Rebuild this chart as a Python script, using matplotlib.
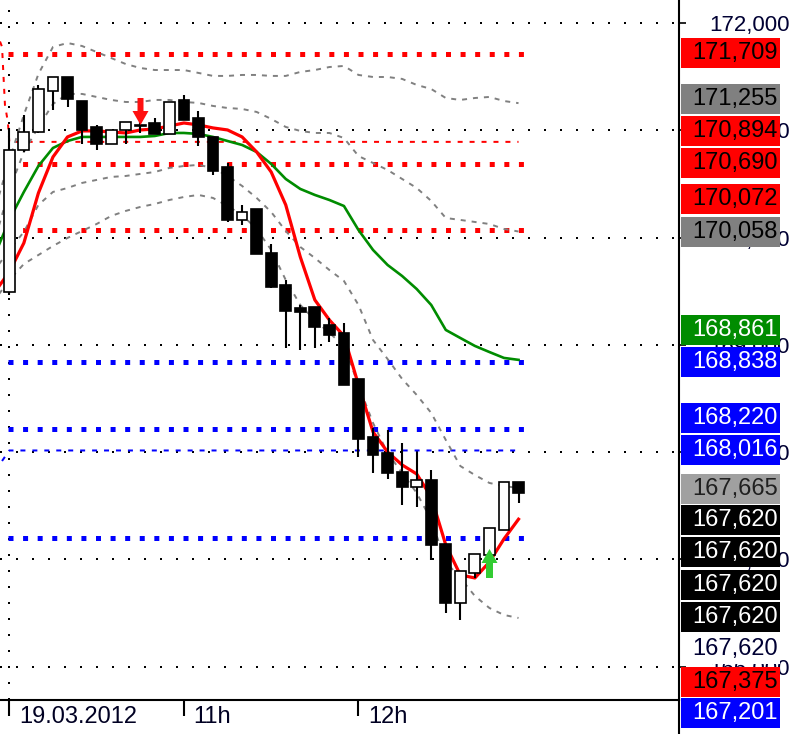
import matplotlib
matplotlib.use('Agg')
import matplotlib.pyplot as plt
import numpy as np
from matplotlib.patches import Rectangle
from matplotlib.path import Path
from matplotlib.lines import Line2D
from matplotlib.transforms import blended_transform_factory, ScaledTranslation, IdentityTransform

plt.rcParams['lines.scale_dashes'] = False
plt.rcParams['font.family'] = ['Liberation Sans', 'DejaVu Sans']

# ---------------- data ----------------
tick_index = [0, 12, 24]
tick_labels = ['19.03.2012', '11h', '12h']
y_ticks = [166, 167, 168, 169, 170, 171, 172]

opens = [169.494, 170.818, 170.986, 171.369, 171.499, 171.275, 171.033, 170.874, 171.005, 171.052,
         171.070, 170.968, 171.285, 171.117, 170.940, 170.660, 170.166, 170.268, 169.858, 169.559,
         169.345, 169.354, 169.186, 169.112, 168.683, 168.142, 167.993, 167.815, 167.676, 167.741,
         167.144, 166.594, 166.874, 167.041, 167.275, 167.722]
highs = [171.024, 171.145, 171.425, 171.499, 171.499, 171.275, 171.052, 171.005, 171.080, 171.080,
         171.117, 171.266, 171.331, 171.182, 170.940, 170.697, 170.306, 170.268, 169.942, 169.606,
         169.373, 169.354, 169.252, 169.205, 168.683, 168.226, 168.207, 168.086, 168.002, 167.834,
         167.144, 166.892, 167.051, 167.293, 167.722, 167.722]
lows = [169.466, 170.800, 170.980, 171.191, 171.219, 170.874, 170.818, 170.874, 170.874, 170.977,
        170.968, 170.968, 171.098, 170.856, 170.585, 170.147, 170.119, 169.849, 169.531, 168.972,
        168.953, 168.972, 169.028, 168.627, 167.955, 167.806, 167.750, 167.508, 167.489, 166.995,
        166.501, 166.435, 166.827, 167.041, 167.275, 167.526]
closes = [170.818, 170.986, 171.387, 171.499, 171.294, 171.005, 170.874, 171.005, 171.080, 171.042,
          170.968, 171.266, 171.098, 170.940, 170.623, 170.166, 170.240, 169.849, 169.541, 169.317,
          169.308, 169.168, 169.093, 168.627, 168.123, 167.974, 167.806, 167.676, 167.741, 167.135,
          166.594, 166.892, 167.051, 167.293, 167.722, 167.620]

# indicator lines, from candle -1 (previous session) to candle 35
line_index = list(range(-1, 36))
sma = [169.839, 170.166, 170.427, 170.669, 170.837, 170.902, 170.940, 170.940, 170.940, 170.940,
       170.940, 170.949, 170.977, 170.977, 170.968, 170.940, 170.902, 170.865, 170.800, 170.688,
       170.548, 170.455, 170.399, 170.352, 170.296, 170.072, 169.886, 169.746, 169.643, 169.522,
       169.373, 169.140, 169.065, 168.991, 168.934, 168.879, 168.861]
ema = [169.494, 169.681, 169.951, 170.417, 170.753, 170.940, 170.996, 170.996, 170.986, 170.977,
       171.005, 171.014, 171.042, 171.070, 171.052, 171.024, 171.005, 170.940, 170.800, 170.613,
       170.306, 169.821, 169.420, 169.233, 169.084, 168.627, 168.189, 168.002, 167.881, 167.797,
       167.582, 167.135, 166.855, 166.827, 166.976, 167.191, 167.375]
band_outer_up = [170.259, 170.725, 171.145, 171.527, 171.779, 171.816, 171.788, 171.732, 171.676, 171.620,
                 171.583, 171.564, 171.564, 171.564, 171.537, 171.509, 171.509, 171.518, 171.518, 171.509,
                 171.509, 171.546, 171.564, 171.592, 171.602, 171.518, 171.499, 171.499, 171.481, 171.425,
                 171.387, 171.303, 171.285, 171.303, 171.313, 171.275, 171.255]
band_inner_up = [169.979, 170.445, 170.800, 171.033, 171.247, 171.341, 171.341, 171.313, 171.285, 171.266,
                 171.266, 171.285, 171.285, 171.266, 171.257, 171.229, 171.210, 171.201, 171.173, 171.108,
                 171.033, 170.996, 170.977, 170.977, 170.930, 170.762, 170.697, 170.632, 170.548, 170.464,
                 170.343, 170.184, 170.166, 170.147, 170.128, 170.082, 170.058]
band_inner_lo = [169.699, 169.886, 170.054, 170.306, 170.427, 170.464, 170.511, 170.539, 170.567, 170.576,
                 170.595, 170.613, 170.651, 170.669, 170.679, 170.651, 170.576, 170.483, 170.371, 170.240,
                 170.063, 169.914, 169.811, 169.699, 169.597, 169.373, 169.046, 168.869, 168.683, 168.534,
                 168.366, 168.114, 167.871, 167.787, 167.713, 167.685, 167.665]
band_outer_lo = [169.420, 169.606, 169.755, 169.839, 169.923, 169.998, 170.063, 170.128, 170.203, 170.250,
                 170.287, 170.315, 170.352, 170.380, 170.399, 170.371, 170.296, 170.212, 170.082, 169.886,
                 169.606, 169.373, 169.233, 169.112, 168.991, 168.627, 168.272, 167.993, 167.806, 167.620,
                 167.368, 166.976, 166.827, 166.659, 166.547, 166.482, 166.454]

red_levels = [171.709, 170.690, 170.072]
blue_levels = [168.838, 168.220, 167.201]
red_ref = 170.894
blue_ref = 168.016
red_ref_lead_x = [-0.64, -0.5, -0.3, -0.1, 0.0]
red_ref_lead_y = [171.83, 171.78, 171.24, 171.08, 170.894]
blue_ref_lead_x = [-0.5, 0.0]
blue_ref_lead_y = [167.918, 168.016]
last_price = 167.620

sell_signal_x, sell_signal_y = [9], [171.178]
buy_signal_x, buy_signal_y = [33], [166.971]

# ---------------- figure ----------------
W, H = 800, 734
fig = plt.figure(figsize=(W / 100, H / 100), dpi=100)
ax_left, ax_right_px, ax_bottom_px = 0, 679, 700
ax = fig.add_axes([0, (H - ax_bottom_px) / H, ax_right_px / W, ax_bottom_px / H])
ax.set_xlim(-0.64, 46.03)
ax.set_ylim(165.689, 172.217)

dot_grid = (0, (1.44, 10.08))
ax.set_yticks(y_ticks)
for v in y_ticks:
    ax.axhline(v, color='#000000', lw=1.44, linestyle=dot_grid, zorder=0.5)
ax.axvline(0, color='#000000', lw=1.44, linestyle=dot_grid, zorder=0.5)

# level lines
sq = (0, (3.6, 6.9))
for v in red_levels:
    ax.plot([-0.1, 35.45], [v, v], color='#ff0000', lw=3.6, linestyle=sq,
            solid_capstyle='butt', dash_capstyle='butt', zorder=1)
for v in blue_levels:
    ax.plot([-0.1, 35.45], [v, v], color='#0000ff', lw=3.6, linestyle=sq,
            solid_capstyle='butt', dash_capstyle='butt', zorder=1)
thin = (0, (3.6, 5.0))
ax.plot(red_ref_lead_x + [35.0], red_ref_lead_y + [red_ref], color='#ff0000', lw=1.44,
        linestyle=thin, dash_capstyle='butt', zorder=1)
ax.plot(blue_ref_lead_x + [35.0], blue_ref_lead_y + [blue_ref], color='#0000ff', lw=1.44,
        linestyle=thin, dash_capstyle='butt', zorder=1)

# bands
band_ls = (0, (3.6, 4.3))
for band in (band_outer_up, band_inner_up, band_inner_lo, band_outer_lo):
    ax.plot(line_index, band, color='#808080', lw=1.4, linestyle=band_ls,
            dash_capstyle='butt', zorder=2)

ax.plot(line_index, sma, color='#008c00', lw=1.9, zorder=2.5, solid_joinstyle='round')
ax.plot(line_index, ema, color='#ff0000', lw=2.3, zorder=2.6, solid_joinstyle='round')

# candles
bw = 0.74
for i, (o, h, l, c) in enumerate(zip(opens, highs, lows, closes)):
    ax.plot([i, i], [l, h], color='black', lw=1.5, zorder=3, solid_capstyle='butt')
    bottom = min(o, c)
    height = max(abs(c - o), 0.012)
    fc = 'white' if c > o else 'black'
    ax.add_patch(Rectangle((i - bw / 2, bottom), bw, height, facecolor=fc,
                           edgecolor='black', lw=1.2, zorder=3.5))

# signal arrows
down_arrow = Path([(-3, 13.5), (3, 13.5), (3, 0.5), (8, 0.5), (0, -13.5), (-8, 0.5), (-3, 0.5), (-3, 13.5)],
                  [Path.MOVETO] + [Path.LINETO] * 6 + [Path.CLOSEPOLY])
up_arrow = Path([(-3.5, -14.5), (3.5, -14.5), (3.5, 0.5), (8, 0.5), (0, 14.5), (-8, 0.5), (-3.5, 0.5), (-3.5, -14.5)],
                [Path.MOVETO] + [Path.LINETO] * 6 + [Path.CLOSEPOLY])
ax.plot(sell_signal_x, sell_signal_y, marker=down_arrow, markersize=27 * 0.72, color='#ff1010',
        markeredgewidth=0, linestyle='none', zorder=6)
ax.plot(buy_signal_x, buy_signal_y, marker=up_arrow, markersize=29 * 0.72, color='#33cc33',
        markeredgewidth=0, linestyle='none', zorder=6)

# axes styling
for s in ('top', 'left'):
    ax.spines[s].set_visible(False)
for s in ('right', 'bottom'):
    ax.spines[s].set_linewidth(1.5)
    ax.spines[s].set_color('black')
ax.set_xticks(tick_index)
ax.set_xticklabels([])
ax.tick_params(axis='x', direction='out', length=11.5, width=1.5, color='black')
ax.yaxis.tick_right()
ax.set_yticklabels([f"{v:.3f}".replace('.', ',') for v in y_ticks])
ax.tick_params(axis='y', direction='out', length=5, width=1.2, pad=17, labelsize=16,
               labelcolor='#000033', left=False, right=True)

trans = blended_transform_factory(ax.transData, ax.transAxes)
for xi, lab in zip(tick_index, tick_labels):
    ax.text(xi, 0, lab, transform=trans + ScaledTranslation(0.095, -0.23, fig.dpi_scale_trans),
            ha='left', va='baseline', fontsize=17, color='#000022')

# extension of the right axis line below the plot
fig.add_artist(Line2D([ax_right_px, ax_right_px], [0, H - ax_bottom_px], color='black', lw=1.5,
                      transform=IdentityTransform()))

# price label boxes on the right
labels = [
    (red_levels[0], '#ff0000', 'black'),
    (band_outer_up[-1], '#808080', 'black'),
    (red_ref, '#ff0000', 'black'),
    (red_levels[1], '#ff0000', 'black'),
    (red_levels[2], '#ff0000', 'black'),
    (band_inner_up[-1], '#808080', 'black'),
    (sma[-1], '#008c00', 'white'),
    (blue_levels[0], '#0000ff', 'white'),
    (blue_levels[1], '#0000ff', 'white'),
    (blue_ref, '#0000ff', 'white'),
    (band_inner_lo[-1], '#a0a0a0', '#202020'),
    (last_price, 'black', 'white'),
    (last_price, 'black', 'white'),
    (last_price, 'black', 'white'),
    (last_price, 'black', 'white'),
    (last_price, 'white', '#000033'),
    (ema[-1], '#ff0000', 'black'),
    (blue_levels[2], '#0000ff', 'white'),
]
label_slot_px = [53.3, 99, 131, 163, 199, 231.7, 330, 362, 418, 450, 488.5,
                 520, 552, 584.5, 617, 649, 682, 713]
box_x0, box_w, box_h = 681, 99, 30
for (v, fc, tc), yc in zip(labels, label_slot_px):
    yd = H - yc
    fig.add_artist(Rectangle((box_x0, yd - box_h / 2), box_w, box_h, facecolor=fc, edgecolor='none',
                             transform=IdentityTransform(), zorder=5))
    fig.text(box_x0 + box_w - 2, yd, f"{v:.3f}".replace('.', ','), transform=IdentityTransform(),
             ha='right', va='center', fontsize=17, color=tc, zorder=6)

fig.savefig('out.png', dpi=100)
